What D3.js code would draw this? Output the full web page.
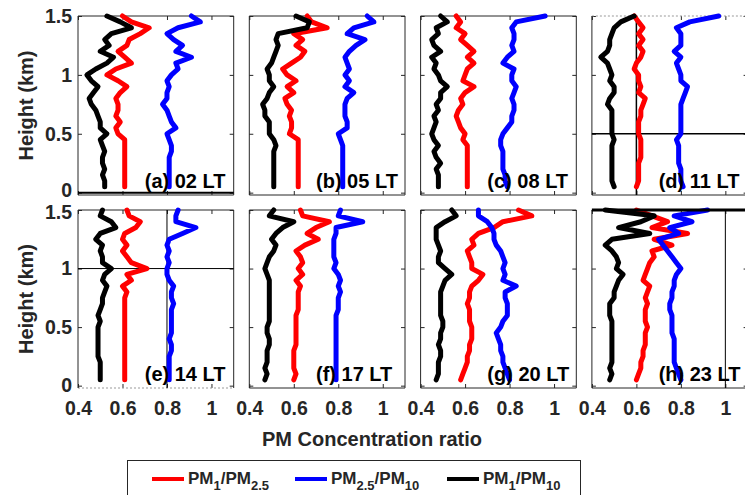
<!DOCTYPE html>
<html><head><meta charset="utf-8">
<script src="https://cdn.jsdelivr.net/npm/d3@7/dist/d3.min.js"></script>
<style>body{margin:0;background:#fff;overflow:hidden} svg{display:block}</style>
</head><body><svg id="c" width="745" height="495"></svg>
<script>
// ---- data ----
const heights = [0.05,0.10,0.15,0.20,0.25,0.30,0.35,0.40,0.45,0.50,0.55,0.60,0.65,0.70,0.75,0.80,0.85,0.90,0.95,1.00,1.05,1.10,1.15,1.20,1.25,1.30,1.35,1.40,1.45,1.50];
const panelLabels = ["(a) 02 LT","(b) 05 LT","(c) 08 LT","(d) 11 LT","(e) 14 LT","(f) 17 LT","(g) 20 LT","(h) 23 LT"];
const xTicks = [0.4,0.6,0.8,1];
const yTicks = [0,0.5,1,1.5];
const seriesNames = ["PM1/PM2.5","PM2.5/PM10","PM1/PM10"];

// PM1/PM2.5 (red)
const pm1pm25_02 = [0.61,0.61,0.61,0.61,0.61,0.61,0.61,0.61,0.61,0.58,0.57,0.59,0.57,0.58,0.58,0.57,0.59,0.62,0.58,0.53,0.57,0.64,0.61,0.58,0.62,0.63,0.68,0.72,0.64,0.60];
const pm1pm25_05 = [0.62,0.62,0.62,0.62,0.62,0.62,0.62,0.62,0.62,0.58,0.59,0.59,0.58,0.59,0.57,0.56,0.60,0.57,0.61,0.57,0.55,0.59,0.63,0.65,0.61,0.64,0.60,0.75,0.68,0.66];
const pm1pm25_08 = [0.61,0.61,0.61,0.61,0.61,0.61,0.61,0.61,0.59,0.60,0.58,0.57,0.56,0.57,0.59,0.58,0.60,0.64,0.59,0.60,0.61,0.64,0.61,0.64,0.61,0.58,0.60,0.56,0.58,0.56];
const pm1pm25_11 = [0.60,0.61,0.61,0.61,0.61,0.62,0.62,0.62,0.62,0.61,0.61,0.61,0.62,0.62,0.63,0.64,0.61,0.62,0.61,0.61,0.59,0.60,0.62,0.63,0.61,0.63,0.61,0.63,0.61,0.59];
const pm1pm25_14 = [0.61,0.61,0.61,0.61,0.61,0.61,0.61,0.61,0.61,0.61,0.61,0.61,0.61,0.61,0.61,0.62,0.60,0.64,0.62,0.71,0.64,0.62,0.60,0.62,0.60,0.61,0.66,0.68,0.63,0.62];
const pm1pm25_17 = [0.60,0.61,0.60,0.60,0.60,0.60,0.61,0.61,0.61,0.61,0.61,0.61,0.62,0.62,0.62,0.62,0.63,0.61,0.64,0.62,0.64,0.63,0.61,0.65,0.71,0.66,0.70,0.76,0.64,0.63];
const pm1pm25_20 = [0.58,0.59,0.60,0.61,0.61,0.62,0.62,0.63,0.63,0.63,0.62,0.62,0.62,0.61,0.62,0.62,0.63,0.66,0.68,0.63,0.63,0.62,0.61,0.64,0.63,0.66,0.73,0.77,0.90,0.84];
const pm1pm25_23 = [0.60,0.61,0.62,0.62,0.63,0.63,0.64,0.64,0.64,0.65,0.64,0.64,0.64,0.65,0.64,0.65,0.66,0.63,0.64,0.65,0.66,0.68,0.67,0.76,0.68,0.83,0.67,0.74,0.67,0.60];

// PM2.5/PM10 (blue)
const pm25pm10_02 = [0.81,0.81,0.81,0.81,0.81,0.81,0.82,0.82,0.81,0.80,0.84,0.82,0.81,0.80,0.78,0.80,0.80,0.81,0.80,0.82,0.85,0.84,0.91,0.84,0.87,0.83,0.80,0.85,0.95,0.91];
const pm25pm10_05 = [0.82,0.82,0.82,0.82,0.82,0.82,0.82,0.82,0.81,0.80,0.84,0.84,0.83,0.83,0.83,0.84,0.87,0.83,0.85,0.83,0.85,0.84,0.83,0.85,0.88,0.92,0.84,0.87,0.96,0.93];
const pm25pm10_08 = [0.79,0.78,0.78,0.77,0.77,0.77,0.77,0.76,0.76,0.77,0.79,0.81,0.81,0.82,0.82,0.81,0.82,0.83,0.81,0.81,0.82,0.77,0.79,0.82,0.81,0.82,0.82,0.81,0.83,0.96];
const pm25pm10_11 = [0.81,0.80,0.80,0.80,0.79,0.79,0.79,0.79,0.78,0.80,0.80,0.80,0.80,0.80,0.80,0.81,0.82,0.83,0.80,0.80,0.79,0.78,0.80,0.77,0.80,0.80,0.80,0.78,0.84,0.97];
const pm25pm10_14 = [0.81,0.81,0.81,0.81,0.81,0.82,0.82,0.81,0.82,0.82,0.82,0.82,0.82,0.83,0.82,0.82,0.83,0.81,0.80,0.80,0.81,0.80,0.81,0.80,0.81,0.87,0.93,0.84,0.84,0.85];
const pm25pm10_17 = [0.79,0.79,0.79,0.79,0.79,0.79,0.79,0.79,0.79,0.79,0.79,0.79,0.80,0.80,0.80,0.81,0.80,0.81,0.80,0.78,0.79,0.78,0.78,0.78,0.78,0.79,0.79,0.91,0.80,0.81];
const pm25pm10_20 = [0.80,0.79,0.78,0.77,0.77,0.76,0.76,0.75,0.74,0.76,0.77,0.79,0.79,0.79,0.78,0.78,0.83,0.77,0.78,0.77,0.78,0.77,0.76,0.74,0.73,0.73,0.72,0.70,0.66,0.66];
const pm25pm10_23 = [0.80,0.79,0.78,0.77,0.77,0.77,0.77,0.77,0.76,0.76,0.76,0.76,0.75,0.75,0.76,0.76,0.77,0.77,0.78,0.80,0.78,0.76,0.74,0.72,0.70,0.79,0.75,0.85,0.77,0.92];

// PM1/PM10 (black)
const pm1pm10_02 = [0.52,0.52,0.51,0.52,0.51,0.51,0.52,0.51,0.50,0.53,0.50,0.50,0.49,0.48,0.46,0.45,0.47,0.49,0.46,0.44,0.48,0.53,0.56,0.50,0.54,0.52,0.55,0.64,0.59,0.53];
const pm1pm10_05 = [0.51,0.51,0.51,0.51,0.51,0.51,0.51,0.52,0.51,0.49,0.49,0.49,0.47,0.47,0.46,0.48,0.49,0.51,0.49,0.49,0.48,0.50,0.51,0.52,0.53,0.52,0.53,0.66,0.67,0.61];
const pm1pm10_08 = [0.48,0.48,0.48,0.47,0.49,0.47,0.46,0.48,0.46,0.45,0.46,0.47,0.46,0.48,0.47,0.49,0.49,0.52,0.49,0.48,0.46,0.47,0.45,0.49,0.46,0.45,0.48,0.47,0.52,0.49];
const pm1pm10_11 = [0.50,0.49,0.49,0.49,0.49,0.49,0.49,0.49,0.50,0.49,0.49,0.49,0.49,0.49,0.47,0.48,0.50,0.50,0.48,0.49,0.48,0.47,0.44,0.47,0.48,0.48,0.49,0.50,0.53,0.59];
const pm1pm10_14 = [0.50,0.50,0.50,0.50,0.49,0.49,0.49,0.49,0.49,0.49,0.50,0.49,0.50,0.51,0.51,0.52,0.53,0.51,0.52,0.55,0.51,0.51,0.50,0.51,0.48,0.50,0.57,0.55,0.50,0.51];
const pm1pm10_17 = [0.47,0.48,0.47,0.48,0.48,0.48,0.49,0.49,0.48,0.48,0.49,0.49,0.49,0.49,0.49,0.49,0.49,0.49,0.48,0.47,0.48,0.49,0.51,0.52,0.50,0.52,0.55,0.60,0.49,0.51];
const pm1pm10_20 = [0.47,0.48,0.48,0.48,0.49,0.49,0.48,0.49,0.49,0.50,0.50,0.49,0.49,0.49,0.49,0.49,0.50,0.51,0.54,0.51,0.48,0.48,0.49,0.48,0.47,0.47,0.47,0.51,0.56,0.54];
const pm1pm10_23 = [0.48,0.49,0.48,0.49,0.49,0.49,0.49,0.49,0.49,0.49,0.49,0.48,0.48,0.48,0.50,0.50,0.51,0.52,0.54,0.51,0.52,0.51,0.49,0.46,0.49,0.66,0.52,0.62,0.68,0.46];

const redSeries   = [pm1pm25_02,pm1pm25_05,pm1pm25_08,pm1pm25_11,pm1pm25_14,pm1pm25_17,pm1pm25_20,pm1pm25_23];
const blueSeries  = [pm25pm10_02,pm25pm10_05,pm25pm10_08,pm25pm10_11,pm25pm10_14,pm25pm10_17,pm25pm10_20,pm25pm10_23];
const blackSeries = [pm1pm10_02,pm1pm10_05,pm1pm10_08,pm1pm10_11,pm1pm10_14,pm1pm10_17,pm1pm10_20,pm1pm10_23];

// ---- layout ----
const svg = d3.select("#c");
const FONT = "'Liberation Sans', Arial, Helvetica, sans-serif";
const TXT = "#262626";
const colors = ["#ff0000","#0000ff","#000000"];
const panelW = 155.7, pitch = 171.3, left0 = 78;
const rows = [{top:16, bottom:195},{top:210, bottom:388}];

panelLabels.forEach((lab, i) => {
  const col = i % 4, row = Math.floor(i / 4);
  const L = left0 + col * pitch, R = L + panelW;
  const T = rows[row].top, B = rows[row].bottom;
  const x = d3.scaleLinear().domain([0.4, 1.1]).range([L, R]);
  const y = d3.scaleLinear().domain([-0.02, 1.5]).range([B, T]);
  const g = svg.append("g");

  // axes (ticks inward)
  const ax = (axis, tx, ty) => {
    const a = g.append("g").attr("transform", `translate(${tx},${ty})`).call(axis);
    a.select(".domain").remove();
    a.selectAll("line").attr("stroke", TXT).attr("stroke-width", 1);
    a.selectAll("text").attr("fill", TXT).style("font-family", FONT)
      .style("font-weight", "bold").style("font-size", "19.5px");
    return a;
  };
  const ly = ax(d3.axisLeft(y).tickValues(yTicks).tickSize(-4).tickPadding(6)
      .tickFormat(col === 0 ? d3.format("") : () => ""), L, 0);
  // keep adjacent row labels ("0" above, "1.5" below) from colliding
  if (col === 0) {
    ly.selectAll("text").attr("dy", d => (row === 0 && d === 0) ? "0.2em" : (row === 1 && d === 1.5) ? "0.42em" : "0.32em");
  }
  ax(d3.axisRight(y).tickValues(yTicks).tickSize(-4).tickFormat(() => ""), R, 0);
  ax(d3.axisTop(x).tickValues(xTicks).tickSize(-4).tickFormat(() => ""), 0, T);
  ax(d3.axisBottom(x).tickValues(xTicks).tickSize(-4).tickPadding(13)
      .tickFormat(row === 1 ? d3.format("") : () => ""), 0, B);

  // frame
  const dotted = {top: i === 3, right: i === 3, bottom: i === 4, left: false};
  const edge = (x1, y1, x2, y2, isDot) => g.append("line")
    .attr("x1", x1).attr("y1", y1).attr("x2", x2).attr("y2", y2)
    .attr("stroke", isDot ? "#999" : TXT).attr("stroke-width", 1)
    .attr("stroke-dasharray", isDot ? "2,2" : null);
  edge(L, T, R, T, dotted.top);
  edge(R, T, R, B, dotted.right);
  edge(L, B, R, B, dotted.bottom);
  edge(L, T, L, B, dotted.left);

  // reference crosshair lines
  const hline = (h, w, x2) => g.append("line").attr("x1", L).attr("x2", x2 || R)
    .attr("y1", y(h)).attr("y2", y(h)).attr("stroke", "#000").attr("stroke-width", w);
  const vline = (v, w) => g.append("line").attr("x1", x(v)).attr("x2", x(v))
    .attr("y1", T).attr("y2", B).attr("stroke", "#000").attr("stroke-width", w);
  if (i === 0) hline(0, 2);
  if (i === 3) { hline(0.5, 1.5); vline(0.6, 1.5); }
  if (i === 4) { hline(1.0, 1); vline(0.8, 1); }
  if (i === 7) { vline(1.0, 1); }

  // profiles
  const line = d3.line().x(d => x(d[0])).y(d => y(d[1]));
  [redSeries[i], blueSeries[i], blackSeries[i]].forEach((s, k) => {
    g.append("path").datum(s.map((v, j) => [v, heights[j]]))
      .attr("d", line).attr("fill", "none").attr("stroke", colors[k])
      .attr("stroke-width", 5).attr("stroke-linejoin", "round").attr("stroke-linecap", "round");
  });
  if (i === 7) hline(1.5, 3, 745);

  // panel label
  g.append("text").attr("x", x(0.7)).attr("y", y(0.1)).attr("dy", "0.35em")
    .attr("fill", "#000").style("font-family", FONT).style("font-weight", "bold")
    .style("font-size", "20px").text(lab);

  // y label
  if (col === 0) {
    svg.append("text").attr("transform", `translate(${26},${(T + B) / 2}) rotate(-90)`)
      .attr("text-anchor", "middle").attr("dy", "0.35em").attr("fill", TXT)
      .style("font-family", FONT).style("font-weight", "bold").style("font-size", "20px")
      .text("Height (km)");
  }
});

// x title
svg.append("text").attr("x", 372).attr("y", 446).attr("text-anchor", "middle").attr("fill", TXT)
  .style("font-family", FONT).style("font-weight", "bold").style("font-size", "20px")
  .text("PM Concentration ratio");

// legend
const lg = svg.append("g");
lg.append("rect").attr("x", 127.5).attr("y", 460.5).attr("width", 453).attr("height", 50)
  .attr("fill", "#fff").attr("stroke", TXT).attr("stroke-width", 1);
const legendParts = [
  [["PM",0],["1",1],["/PM",0],["2.5",1]],
  [["PM",0],["2.5",1],["/PM",0],["10",1]],
  [["PM",0],["1",1],["/PM",0],["10",1]]
];
const legendX = [152, 295, 447];
legendParts.forEach((parts, k) => {
  lg.append("line").attr("x1", legendX[k]).attr("x2", legendX[k] + 32)
    .attr("y1", 479).attr("y2", 479).attr("stroke", colors[k]).attr("stroke-width", 4);
  const t = lg.append("text").attr("x", legendX[k] + 36).attr("y", 484).attr("fill", TXT)
    .style("font-family", FONT).style("font-weight", "bold").style("font-size", "17px");
  let prevSub = 0;
  parts.forEach(([s, sub]) => {
    t.append("tspan").attr("dy", (sub - prevSub) * 6).style("font-size", sub ? "13px" : "17px").text(s);
    prevSub = sub;
  });
  t.append("title").text(seriesNames[k]);
});
</script></body></html>
